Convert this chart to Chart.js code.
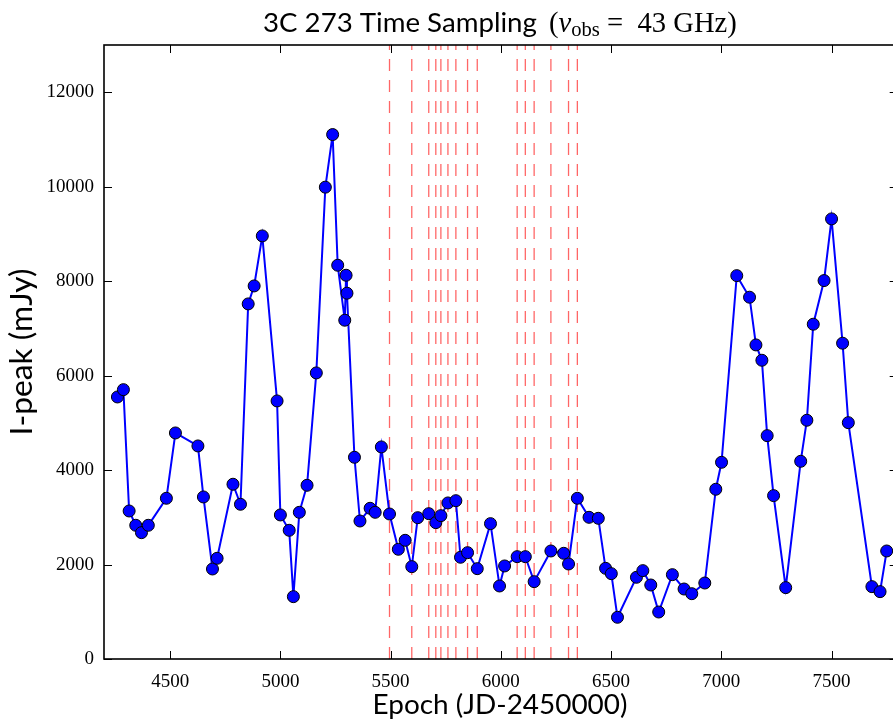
<!DOCTYPE html>
<html>
<head>
<meta charset="utf-8">
<script src="https://cdn.jsdelivr.net/npm/chart.js@4.4.1/dist/chart.umd.min.js"></script>
<style>
  html, body { margin: 0; padding: 0; background: #fff; overflow: hidden; }
  #wrap { width: 905px; height: 719px; }
</style>
</head>
<body>
<div id="wrap"><canvas id="c" width="905" height="719"></canvas></div>
<script>
// 3C 273 light curve at 43 GHz, epochs in JD-2450000
const EPOCH = [4261, 4288, 4314, 4344, 4370, 4401, 4483, 4524, 4626, 4651,
  4692, 4713, 4785, 4819, 4854, 4881, 4918, 4985, 5000, 5040,
  5059, 5086, 5121, 5163, 5204, 5237, 5260, 5292, 5298, 5302,
  5336, 5361, 5407, 5430, 5458, 5495, 5535, 5566, 5596, 5623,
  5673, 5705, 5728, 5760, 5796, 5817, 5849, 5893, 5953, 5994,
  6017, 6074, 6111, 6151, 6227, 6285, 6307, 6347, 6400, 6442,
  6475, 6501, 6529, 6615, 6644, 6680, 6716, 6778, 6831, 6866,
  6925, 6975, 7001, 7070, 7128, 7157, 7184, 7208, 7237, 7292,
  7360, 7388, 7417, 7466, 7500, 7550, 7576, 7683, 7720, 7750];
const IPEAK = [5548, 5703, 3134, 2831, 2675, 2831, 3403, 4786, 4511, 3431,
  1906, 2132, 3700, 3276, 7518, 7899, 8958, 5464, 3050, 2725,
  1320, 3106, 3678, 6057, 9990, 11104, 8337, 7173, 8125, 7745,
  4271, 2922, 3191, 3106, 4490, 3070, 2323, 2513, 1955, 2992,
  3077, 2887, 3035, 3304, 3352, 2154, 2251, 1913, 2866, 1546,
  1970, 2167, 2167, 1638, 2287, 2238, 2012, 3403, 3000, 2979,
  1920, 1807, 883, 1730, 1871, 1567, 995, 1786, 1482, 1383,
  1609, 3594, 4165, 8117, 7660, 6650, 6325, 4729, 3459, 1511,
  4186, 5055, 7088, 8012, 9318, 6686, 5004, 1532, 1426, 2287];
// sampled epochs marked with red dashed lines
const MARKED = [5495, 5596, 5673, 5705, 5728, 5760, 5796, 5849, 5893,
  6074, 6111, 6151, 6227, 6307, 6347];
const X_TICKS = [4500, 5000, 5500, 6000, 6500, 7000, 7500];
const Y_TICKS = [0, 2000, 4000, 6000, 8000, 10000, 12000];
const X_RANGE = [4200, 7800];
const Y_RANGE = [0, 13000];

const SANS = 'Lato';
const SERIF = '"Liberation Serif"';

function fitSize(ctx, text, font, target) {
  ctx.font = '100px ' + font;
  return 100 * target / ctx.measureText(text).width;
}

const frame = {
  id: 'frame',
  afterDraw(chart) {
    const ctx = chart.ctx, a = chart.chartArea;
    const xs = chart.scales.x, ys = chart.scales.y;
    ctx.save();
    ctx.strokeStyle = '#000';
    ctx.lineWidth = 1.6;
    ctx.strokeRect(a.left, a.top, a.right - a.left, a.bottom - a.top);
    ctx.lineWidth = 1;
    const tl = 8;
    ctx.beginPath();
    X_TICKS.forEach(v => {
      const p = Math.round(xs.getPixelForValue(v)) + 0.5;
      ctx.moveTo(p, a.bottom); ctx.lineTo(p, a.bottom - tl);
      ctx.moveTo(p, a.top); ctx.lineTo(p, a.top + tl);
    });
    Y_TICKS.forEach(v => {
      const p = Math.round(ys.getPixelForValue(v)) + 0.5;
      ctx.moveTo(a.left, p); ctx.lineTo(a.left + tl, p);
      ctx.moveTo(a.right, p); ctx.lineTo(a.right - tl, p);
    });
    ctx.stroke();

    ctx.fillStyle = '#000';
    ctx.textBaseline = 'alphabetic';
    // title: sans part, then math part in serif
    const t1 = '3C 273 Time Sampling';
    const s1 = fitSize(ctx, t1, SANS, 274);
    ctx.font = s1 + 'px ' + SANS;
    ctx.textAlign = 'left';
    ctx.fillText(t1, 263, 32);

    const parts = [
      ['(', 'normal', 1, 0], ['\u03bd', 'italic', 1, 0], ['obs', 'normal', 0.72, 4],
      [' =  ', 'normal', 1, 0], ['43 GHz', 'normal', 1, 0], [')', 'normal', 1, 0]
    ];
    let w100 = 0;
    parts.forEach(([txt, st, k]) => {
      ctx.font = st + ' ' + (100 * k) + 'px ' + SERIF;
      w100 += ctx.measureText(txt).width;
    });
    const s2 = 100 * 188 / w100;
    let x = 549;
    parts.forEach(([txt, st, k, dy]) => {
      ctx.font = st + ' ' + (s2 * k) + 'px ' + SERIF;
      ctx.fillText(txt, x, 32 + dy);
      x += ctx.measureText(txt).width;
    });

    // axis titles
    const xl = 'Epoch (JD-2450000)';
    const s3 = fitSize(ctx, xl, SANS, 255);
    ctx.font = s3 + 'px ' + SANS;
    ctx.textAlign = 'center';
    ctx.fillText(xl, 500, 714);

    const yl = 'I-peak (mJy)';
    const s4 = fitSize(ctx, yl, SANS, 167);
    ctx.font = s4 + 'px ' + SANS;
    ctx.translate(32, 352);
    ctx.rotate(-Math.PI / 2);
    ctx.fillText(yl, 0, 0);
    ctx.restore();
  }
};

const datasets = [{
  label: 'I-peak',
  data: EPOCH.map((e, i) => ({ x: e, y: IPEAK[i] })),
  borderColor: '#0000ff',
  borderWidth: 2,
  pointRadius: 6,
  pointBackgroundColor: '#0000ff',
  pointBorderColor: '#000',
  pointBorderWidth: 1,
  tension: 0,
  order: 0
}];
MARKED.forEach(e => datasets.push({
  data: [{ x: e, y: Y_RANGE[0] }, { x: e, y: Y_RANGE[1] }],
  borderColor: 'rgba(255, 0, 0, 0.6)',
  borderWidth: 1.3,
  borderDash: [12, 9],
  pointRadius: 0,
  order: 1
}));

new Chart(document.getElementById('c').getContext('2d'), {
  type: 'line',
  data: { datasets: datasets },
  options: {
    responsive: false,
    animation: false,
    events: [],
    layout: { padding: { top: 45, left: 0, right: 7.3, bottom: 0 } },
    plugins: { legend: { display: false }, title: { display: false }, tooltip: { enabled: false } },
    scales: {
      x: {
        type: 'linear',
        min: X_RANGE[0], max: X_RANGE[1],
        grid: { display: false, drawTicks: false },
        border: { display: false },
        afterBuildTicks: s => { s.ticks = X_TICKS.map(v => ({ value: v })); },
        afterFit: s => { s.height = 60; },
        ticks: { color: '#000', padding: 12, maxRotation: 0, callback: v => String(v),
          font: { family: 'Liberation Serif', size: 19 } }
      },
      y: {
        type: 'linear',
        min: Y_RANGE[0], max: Y_RANGE[1],
        grid: { display: false, drawTicks: false },
        border: { display: false },
        afterBuildTicks: s => { s.ticks = Y_TICKS.map(v => ({ value: v })); },
        afterFit: s => { s.width = 104; },
        ticks: { color: '#000', padding: 10, callback: v => String(v),
          font: { family: 'Liberation Serif', size: 19 } }
      }
    }
  },
  plugins: [frame]
});
</script>
</body>
</html>
